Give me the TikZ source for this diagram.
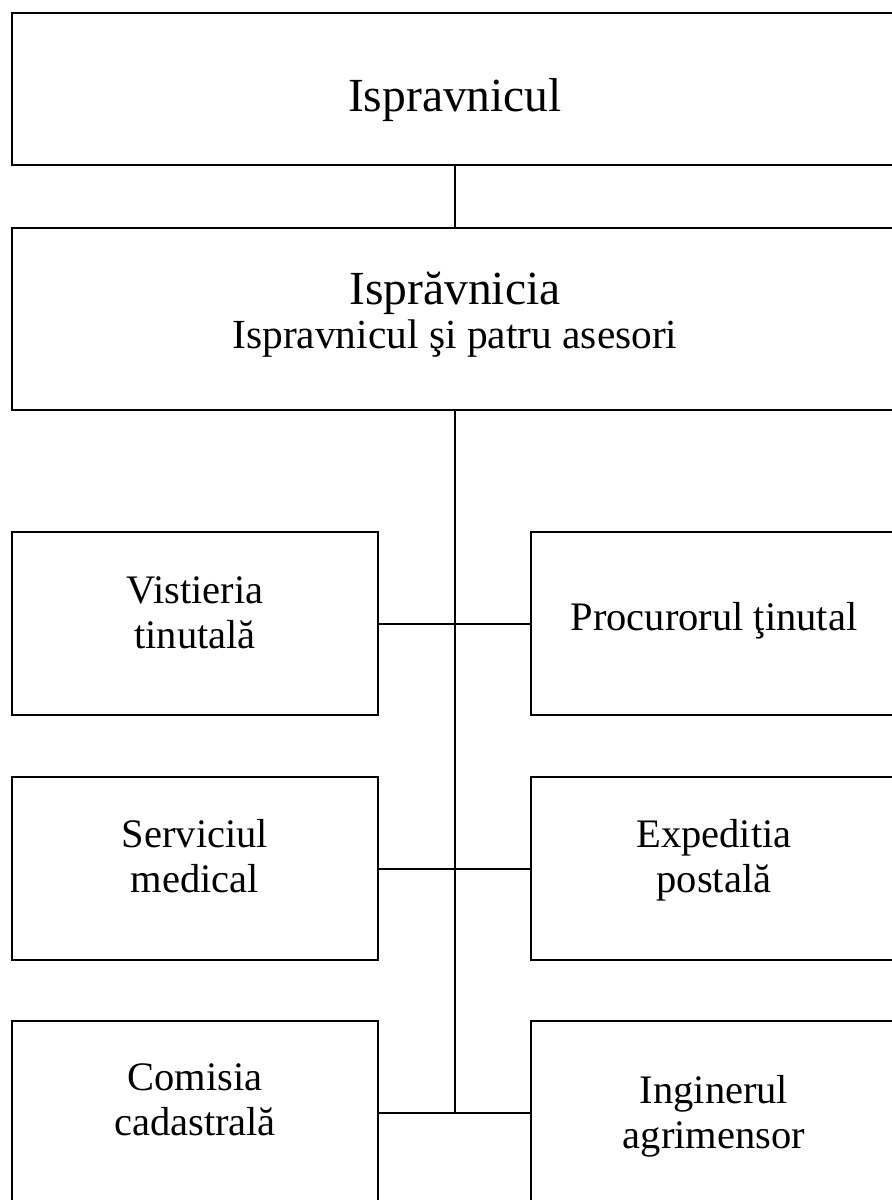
\documentclass[tikz,border=0pt]{standalone}
\usepackage{fontspec}
\setmainfont{Liberation Serif}
\begin{document}
\begin{tikzpicture}[x=1bp,y=-1bp,
  frame/.style={draw,line width=2bp,inner sep=0pt,outer sep=0pt},
  wide/.style={frame,minimum width=886bp},
  unit/.style={frame,minimum width=366bp,minimum height=183bp},
  link/.style={line width=2bp},
  big/.style={font=\fontsize{47.5bp}{52bp}\selectfont,anchor=base,inner sep=0pt},
  sub/.style={font=\fontsize{41.4bp}{46bp}\selectfont,anchor=base,inner sep=0pt},
  lbl/.style={font=\fontsize{40.5bp}{45.5bp}\selectfont,anchor=base,inner sep=0pt}]
\useasboundingbox (0,0) rectangle (892,1200);
\fill[white] (0,0) rectangle (892,1200);
\clip (0,0) rectangle (892,1200);
% boxes
\node[wide,minimum height=152bp] (top) at (455,89) {};
\node[wide,minimum height=182bp] (mid) at (455,319) {};
\node[unit] (L1) at (195,623.5) {};
\node[unit] (R1) at (714,623.5) {};
\node[unit] (L2) at (195,868.5) {};
\node[unit] (R2) at (714,868.5) {};
\node[unit] (L3) at (195,1112.5) {};
\node[unit] (R3) at (714,1112.5) {};
% texts
\node[big] (topt) at (455,111) {Ispravnicul};
\node[big] (midt) at (455,304) {Isprăvnicia};
\node[sub] (mids) at (455,348) {Ispravnicul şi patru asesori};
\node[lbl] (L1t) at (195,603) {\begin{tabular}[t]{@{}c@{}}Vistieria\\tinutală\end{tabular}};
\node[lbl] (R1t) at (714,630) {Procurorul ţinutal};
\node[lbl] (L2t) at (195,847) {\begin{tabular}[t]{@{}c@{}}Serviciul\\medical\end{tabular}};
\node[lbl] (R2t) at (714,847) {\begin{tabular}[t]{@{}c@{}}Expeditia\\postală\end{tabular}};
\node[lbl] (L3t) at (195,1090) {\begin{tabular}[t]{@{}c@{}}Comisia\\cadastrală\end{tabular}};
\node[lbl] (R3t) at (714,1103) {\begin{tabular}[t]{@{}c@{}}Inginerul\\agrimensor\end{tabular}};
% connectors
\draw[link] (top.south) -- (mid.north);
\draw[link] (mid.south) -- (mid.south |- L3.east);
\draw[link] (L1.east) -- (R1.west);
\draw[link] (L2.east) -- (R2.west);
\draw[link] (L3.east) -- (R3.west);
\end{tikzpicture}
\end{document}
